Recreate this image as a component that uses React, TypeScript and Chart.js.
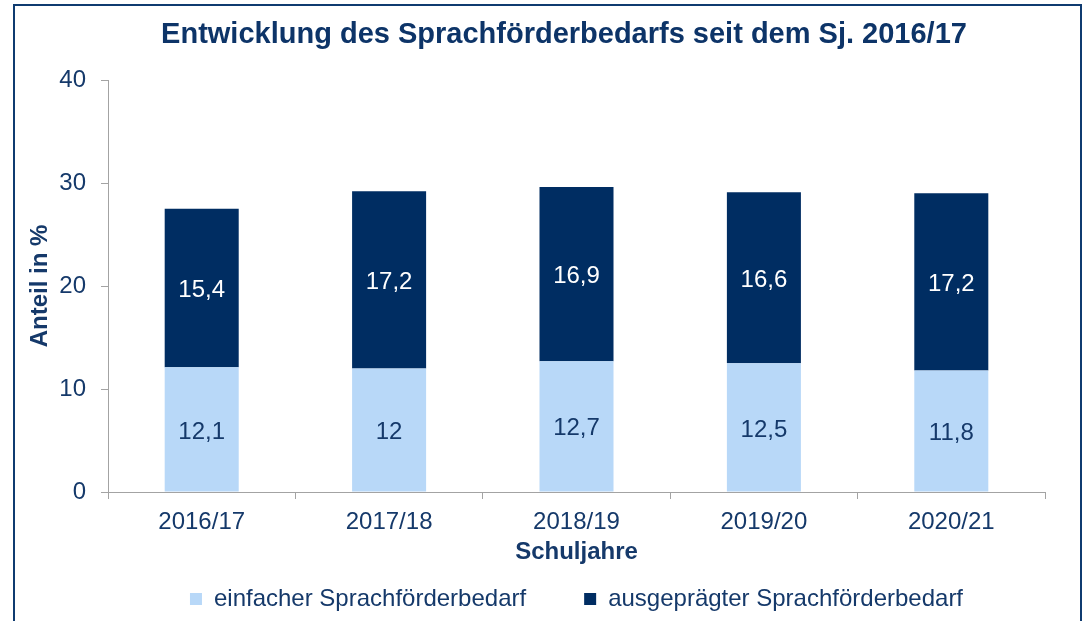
import React, { useEffect, useRef } from 'react';
import { Chart, registerables } from 'chart.js';

Chart.register(...registerables);

const categories = ['2016/17', '2017/18', '2018/19', '2019/20', '2020/21'];
const einfacherValues = [12.1, 12, 12.7, 12.5, 11.8];
const ausgepraegterValues = [15.4, 17.2, 16.9, 16.6, 17.2];
const seriesNames = ['einfacher Sprachförderbedarf', 'ausgeprägter Sprachförderbedarf'];
const yMin = 0;
const yMax = 40;
const yStep = 10;
const chartTitle = 'Entwicklung des Sprachförderbedarfs seit dem Sj. 2016/17';
const xAxisTitle = 'Schuljahre';
const yAxisTitle = 'Anteil in %';

const FONT = '"Liberation Sans", Arial, Helvetica, sans-serif';
const FS = 24;
const NAVY_TEXT = '#15396a';
const TITLE_COLOR = '#0d3468';
const LIGHT_BAR = '#b8d8f8';
const DARK_BAR = '#002d62';
const AXIS_GRAY = '#a3a3a3';
const FRAME_COLOR = '#0f3b70';

const fmt = (v: number) => String(v).replace('.', ',');

const framePlugin = {
  id: 'frameAndTitle',
  beforeDraw(chart: any) {
    const ctx = chart.ctx;
    ctx.save();
    ctx.fillStyle = '#ffffff';
    ctx.fillRect(0, 0, chart.width, chart.height);
    ctx.restore();
  },
  afterDraw(chart: any) {
    const ctx = chart.ctx;
    ctx.save();
    ctx.strokeStyle = FRAME_COLOR;
    ctx.lineWidth = 2;
    ctx.strokeRect(14, 5, 1067, 700);
    ctx.fillStyle = TITLE_COLOR;
    ctx.font = `bold 29px ${FONT}`;
    ctx.textAlign = 'center';
    ctx.textBaseline = 'middle';
    ctx.fillText(chartTitle, 564, 35);
    ctx.restore();
  },
};

const dataLabelPlugin = {
  id: 'barValueLabels',
  afterDatasetsDraw(chart: any) {
    const ctx = chart.ctx;
    ctx.save();
    ctx.font = `${FS}px ${FONT}`;
    ctx.textAlign = 'center';
    ctx.textBaseline = 'middle';
    chart.data.datasets.forEach((ds: any, di: number) => {
      const meta = chart.getDatasetMeta(di);
      ctx.fillStyle = di === 0 ? NAVY_TEXT : '#ffffff';
      meta.data.forEach((bar: any, i: number) => {
        const y = (bar.y + bar.base) / 2 + 2.5;
        ctx.fillText(fmt(ds.data[i]), bar.x, y);
      });
    });
    ctx.restore();
  },
};

export default function App() {
  const canvasRef = useRef<HTMLCanvasElement | null>(null);

  useEffect(() => {
    if (!canvasRef.current) return;
    const chart = new Chart(canvasRef.current, {
      type: 'bar',
      data: {
        labels: categories,
        datasets: [
          {
            label: seriesNames[0],
            data: einfacherValues,
            backgroundColor: LIGHT_BAR,
            borderWidth: 0,
            categoryPercentage: 1,
            barPercentage: 0.395,
          },
          {
            label: seriesNames[1],
            data: ausgepraegterValues,
            backgroundColor: DARK_BAR,
            borderWidth: 0,
            categoryPercentage: 1,
            barPercentage: 0.395,
          },
        ],
      },
      options: {
        responsive: false,
        animation: false,
        devicePixelRatio: 1,
        layout: { padding: { top: 80, left: 14, right: 40, bottom: 0 } },
        plugins: {
          title: { display: false },
          tooltip: { enabled: false },
          legend: {
            display: true,
            position: 'bottom',
            fullSize: false,
            labels: {
              color: NAVY_TEXT,
              font: { family: FONT, size: FS },
              boxWidth: 12,
              boxHeight: 12,
              padding: 58,
            },
          },
        },
        scales: {
          x: {
            stacked: true,
            afterFit: (scale: any) => {
              scale.height = 37;
            },
            grid: {
              display: true,
              drawOnChartArea: false,
              drawTicks: true,
              tickLength: 7,
              color: AXIS_GRAY,
              offset: true,
            },
            border: { display: true, color: AXIS_GRAY, width: 1 },
            ticks: {
              color: NAVY_TEXT,
              font: { family: FONT, size: FS },
              padding: 9,
              maxRotation: 0,
            },
            title: {
              display: true,
              text: xAxisTitle,
              color: NAVY_TEXT,
              font: { family: FONT, size: FS, weight: 'bold' },
              padding: { top: 0, bottom: -38 },
            },
          },
          y: {
            stacked: true,
            min: yMin,
            max: yMax,
            afterFit: (scale: any) => {
              scale.width = 94;
            },
            grid: {
              display: true,
              drawOnChartArea: false,
              drawTicks: true,
              tickLength: 7,
              color: AXIS_GRAY,
            },
            border: { display: true, color: AXIS_GRAY, width: 1 },
            ticks: {
              stepSize: yStep,
              color: NAVY_TEXT,
              font: { family: FONT, size: FS },
              padding: 15,
            },
            title: {
              display: true,
              text: yAxisTitle,
              color: NAVY_TEXT,
              font: { family: FONT, size: FS, weight: 'bold' },
              padding: { top: 12, bottom: 0 },
            },
          },
        },
      },
      plugins: [framePlugin, dataLabelPlugin],
    } as any);
    return () => chart.destroy();
  }, []);

  return (
    <div style={{ position: 'absolute', left: 0, top: 0, width: 1085, height: 621, overflow: 'hidden' }}>
      <canvas ref={canvasRef} width={1085} height={621} style={{ display: 'block' }} />
    </div>
  );
}
